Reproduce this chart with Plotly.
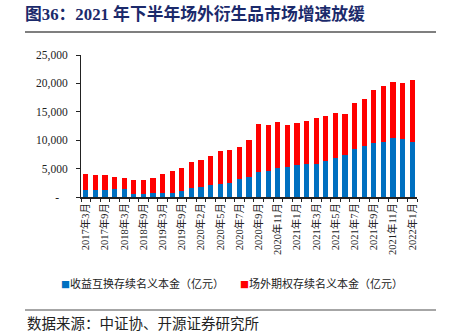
import plotly.graph_objects as go

# Month labels (35 reporting points)
months = [
    "2017年3月", "2017年6月", "2017年9月", "2017年12月",
    "2018年3月", "2018年6月", "2018年9月", "2018年12月",
    "2019年3月", "2019年6月", "2019年9月", "2019年12月",
    "2020年2月", "2020年3月", "2020年5月", "2020年6月", "2020年7月", "2020年8月",
    "2020年9月", "2020年10月", "2020年11月", "2020年12月",
    "2021年1月", "2021年2月", "2021年3月", "2021年4月", "2021年5月", "2021年6月",
    "2021年7月", "2021年8月", "2021年9月", "2021年10月", "2021年11月", "2021年12月",
    "2022年1月",
]

# 收益互换存续名义本金（亿元）
swap_notional = [
    1230, 1170, 1230, 1400, 1350, 470, 585, 700, 700, 760, 1110, 1520,
    1810, 2110, 2340, 2520, 3100, 3510, 4450, 4500, 5150, 5210, 5620, 5790,
    5790, 6320, 6900, 7370, 8420, 9010, 9420, 9770, 10470, 10180, 9770,
]

# 场外期权存续名义本金（亿元）
option_notional = [
    2750, 2690, 2630, 2170, 2040, 2510, 2340, 2690, 3300, 3800, 4040, 4620,
    4680, 5140, 5790, 5730, 5730, 6550, 8480, 8250, 8070, 7490, 7430, 7670,
    8070, 7900, 7840, 7310, 8080, 8310, 9480, 9770, 9830, 9890, 10880,
]

series_names = ["收益互换存续名义本金（亿元）", "场外期权存续名义本金（亿元）"]
series_colors = ["#0070C0", "#FF0000"]

y_ticks = [0, 5000, 10000, 15000, 20000, 25000]
y_ticktext = ["-\u00a0\u00a0\u00a0", "5,000", "10,000", "15,000", "20,000", "25,000"]

# Only every other month is labelled on the category axis
x_ticktext = [m if i % 2 == 0 else "" for i, m in enumerate(months)]

W, H = 450, 332
ML, MR, MT, MB = 81, 33, 55, 135
PW, PH = W - ML - MR, H - MT - MB


def px_x(px):
    return (px - ML) / PW


def px_y(py):
    return (H - MB - py) / PH


SERIF = "Liberation Serif, Times New Roman, Noto Sans CJK SC"
CJK = "Noto Sans CJK SC, Liberation Serif"

fig = go.Figure()
fig.add_trace(go.Bar(x=months, y=swap_notional, name=series_names[0],
                     marker=dict(color=series_colors[0], line=dict(width=0))))
fig.add_trace(go.Bar(x=months, y=option_notional, name=series_names[1],
                     marker=dict(color=series_colors[1], line=dict(width=0))))

fig.update_layout(
    width=W, height=H,
    margin=dict(l=ML, r=MR, t=MT, b=MB),
    barmode="stack",
    bargap=0.47,
    showlegend=False,
    paper_bgcolor="white",
    plot_bgcolor="white",
    title=dict(
        text="<b>图36：2021 年下半年场外衍生品市场增速放缓</b>",
        font=dict(family=SERIF, size=16.8, color="#1B2A6B"),
        xref="container", yref="container",
        x=25 / W, xanchor="left",
        y=1 - 14 / H, yanchor="middle",
    ),
    xaxis=dict(
        type="category",
        tickmode="array", tickvals=months, ticktext=x_ticktext,
        tickangle=-90,
        tickfont=dict(family=SERIF, size=10.5, color="#222"),
        ticks="outside", ticklen=3, tickcolor="#222", tickwidth=1,
        tickson="boundaries",
        showline=True, linecolor="#222", linewidth=1.5,
        showgrid=False, zeroline=False,
    ),
    yaxis=dict(
        range=[0, 25000],
        tickmode="array", tickvals=y_ticks, ticktext=y_ticktext,
        tickfont=dict(family=SERIF, size=11.5, color="#222"),
        ticks="outside", ticklen=4, tickcolor="#222", tickwidth=1,
        ticklabelstandoff=6,
        showline=True, linecolor="#222", linewidth=1,
        showgrid=False, zeroline=False,
    ),
)

# Title underline and footer rule
fig.add_shape(type="line", xref="paper", yref="paper",
              x0=px_x(25), x1=px_x(436), y0=px_y(32), y1=px_y(32),
              line=dict(color="#555", width=1.5))
fig.add_shape(type="line", xref="paper", yref="paper",
              x0=px_x(25), x1=px_x(436), y0=px_y(310), y1=px_y(310),
              line=dict(color="#888", width=1.5))

# Legend row
for name, color, lx in zip(series_names, series_colors, [59, 238]):
    fig.add_annotation(
        xref="paper", yref="paper", x=px_x(lx), y=px_y(283),
        xanchor="left", yanchor="middle", showarrow=False,
        text=f"<span style='color:{color};font-size:9px'>■</span>{name}",
        font=dict(family=CJK, size=11, color="#222"),
    )

# Source note
fig.add_annotation(
    xref="paper", yref="paper", x=px_x(25), y=px_y(322),
    xanchor="left", yanchor="middle", showarrow=False,
    text="数据来源：中证协、开源证券研究所",
    font=dict(family=CJK, size=14.5, color="#222"),
)

fig.write_html("out.html")
